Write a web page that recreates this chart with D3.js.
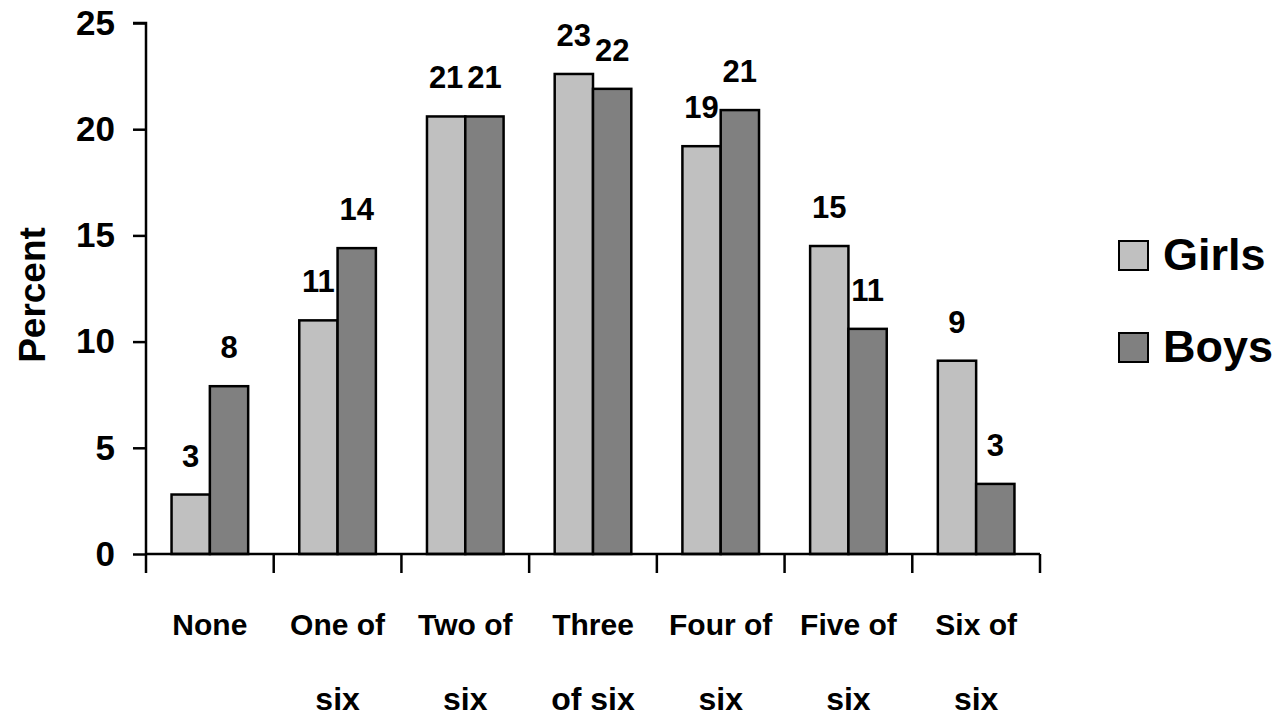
<!DOCTYPE html>
<html>
<head>
<meta charset="utf-8">
<script src="https://cdn.jsdelivr.net/npm/d3@7/dist/d3.min.js"></script>
<style>
  body { margin: 0; background: #fff; }
  svg { display: block; font-family: "Liberation Sans", Arial, sans-serif; font-weight: bold; }
</style>
</head>
<body>
<svg id="chart" width="1284" height="717"></svg>
<script>
const categories = ["None", "One", "Two", "Three", "Four", "Five", "Six"];
const catLine1 = ["None", "One of", "Two of", "Three", "Four of", "Five of", "Six of"];
const catLine2 = ["", "six", "six", "of six", "six", "six", "six"];
const girls = [2.8, 11.0, 20.6, 22.6, 19.2, 14.5, 9.1];
const boys = [7.9, 14.4, 20.6, 21.9, 20.9, 10.6, 3.3];
const series = ["Girls", "Boys"];
const yTicks = [0, 5, 10, 15, 20, 25];

const colors = { Girls: "#c0c0c0", Boys: "#808080" };
const plotLeft = 146, plotRight = 1040, plotTop = 23, plotBottom = 554;

const svg = d3.select("#chart");

const x = d3.scaleBand().domain(categories).range([plotLeft, plotRight]).padding(0);
const xs = d3.scaleBand().domain(series).range([0, x.bandwidth()]).paddingOuter(0.667).paddingInner(0);
const y = d3.scaleLinear().domain([0, 25]).range([plotBottom, plotTop]);

const rows = categories.map((c, i) => ({ cat: c, Girls: girls[i], Boys: boys[i] }));

// y axis
const ya = d3.axisLeft(y).tickValues(yTicks).tickSize(13).tickPadding(18);
const yg = svg.append("g").attr("transform", `translate(${plotLeft},0)`).call(ya);
yg.select(".domain").attr("stroke", "#000").attr("stroke-width", 2.5)
  .attr("d", `M-13,${plotTop}H0V${plotBottom}`);
yg.selectAll(".tick line").attr("stroke", "#000").attr("stroke-width", 2.5);
yg.selectAll(".tick text").attr("fill", "#000")
  .style("font-size", "35px").style("font-weight", "bold")
  .style("font-family", "'Liberation Sans', Arial, sans-serif");

// bars
const groups = svg.append("g").selectAll("g").data(rows).enter().append("g")
  .attr("transform", d => `translate(${x(d.cat)},0)`);

groups.selectAll("rect").data(d => series.map(s => ({ s: s, v: d[s] }))).enter()
  .append("rect")
  .attr("x", d => xs(d.s))
  .attr("y", d => y(d.v))
  .attr("width", xs.bandwidth())
  .attr("height", d => y(0) - y(d.v))
  .attr("fill", d => colors[d.s])
  .attr("stroke", "#000")
  .attr("stroke-width", 2.5);

groups.selectAll("text.val").data(d => series.map(s => ({ s: s, v: d[s] }))).enter()
  .append("text").attr("class", "val")
  .attr("x", d => xs(d.s) + xs.bandwidth() / 2)
  .attr("y", d => y(d.v) - 28)
  .attr("text-anchor", "middle")
  .style("font-size", "31px")
  .text(d => Math.round(d.v));

// x axis
svg.append("line").attr("x1", plotLeft).attr("x2", plotRight).attr("y1", plotBottom).attr("y2", plotBottom)
  .attr("stroke", "#000").attr("stroke-width", 2.5);
const edges = categories.map(c => x(c)).concat([plotRight]);
svg.append("g").selectAll("line").data(edges).enter().append("line")
  .attr("x1", d => d).attr("x2", d => d)
  .attr("y1", plotBottom).attr("y2", plotBottom + 19)
  .attr("stroke", "#000").attr("stroke-width", 2.5);

const xl = svg.append("g").selectAll("text").data(categories).enter().append("text")
  .attr("text-anchor", "middle")
  .attr("x", d => x(d) + x.bandwidth() / 2);
xl.append("tspan").attr("x", d => x(d) + x.bandwidth() / 2).attr("y", 635)
  .style("font-size", "30px")
  .text((d, i) => catLine1[i]);
xl.append("tspan").attr("x", d => x(d) + x.bandwidth() / 2).attr("y", 710)
  .style("font-size", "32px")
  .text((d, i) => catLine2[i]);

// y title
svg.append("text")
  .attr("transform", "translate(45,295) rotate(-90)")
  .attr("text-anchor", "middle")
  .style("font-size", "37px")
  .text("Percent");

// legend
const lg = svg.append("g").selectAll("g").data(series).enter().append("g")
  .attr("transform", (d, i) => `translate(1119,${241 + i * 92})`);
lg.append("rect").attr("width", 29).attr("height", 29)
  .attr("fill", d => colors[d]).attr("stroke", "#000").attr("stroke-width", 2);
lg.append("text").attr("x", 44).attr("y", 29)
  .style("font-size", "45px")
  .text(d => d);
</script>
</body>
</html>
